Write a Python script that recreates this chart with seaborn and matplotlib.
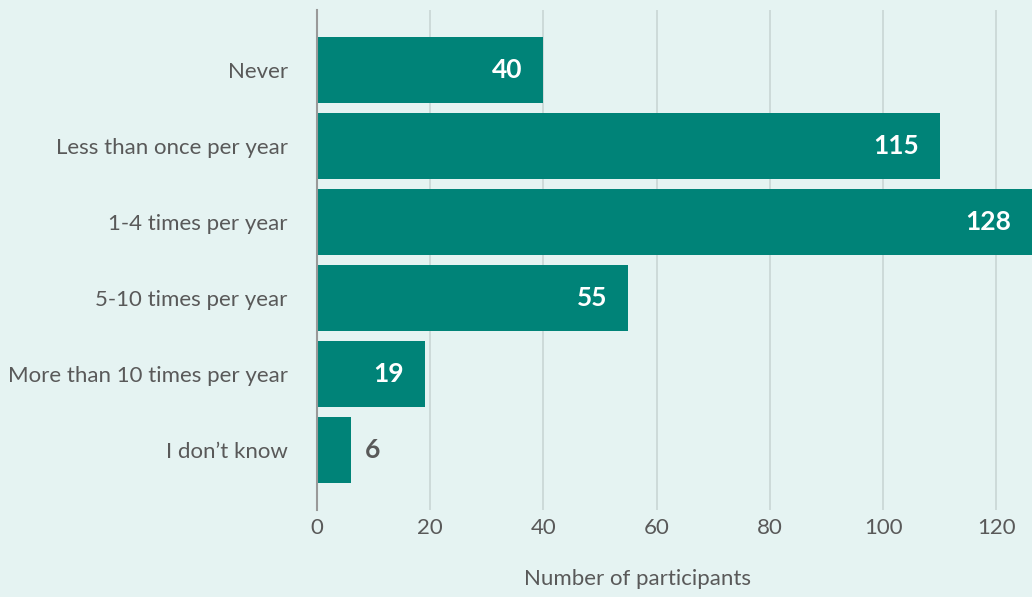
import matplotlib
matplotlib.use("Agg")
import matplotlib.pyplot as plt
import seaborn as sns
import pandas as pd

categories = ["Never", "Less than once per year", "1-4 times per year",
              "5-10 times per year", "More than 10 times per year", "I don\u2019t know"]
bar_lengths = [40, 110, 128, 55, 19, 6]
value_labels = ["40", "115", "128", "55", "19", "6"]
xticks = [0, 20, 40, 60, 80, 100, 120]

BG = "#e5f3f2"
BAR = "#008378"
TXT = "#595959"

sns.set_theme(style="white")
plt.rcParams["font.family"] = ["Lato", "DejaVu Sans"]

df = pd.DataFrame({"category": categories, "count": bar_lengths})

fig = plt.figure(figsize=(10.32, 5.97), dpi=100, facecolor=BG)
ax = fig.add_axes([317/1032, 1-510/597, 1-317/1032, 500/597])
ax.set_facecolor(BG)

sns.barplot(data=df, x="count", y="category", orient="h", color=BAR,
            width=0.87, saturation=1, linewidth=0, ax=ax, zorder=3)

ax.set_xlim(0, 126.3)
ax.set_ylim(5.79, -0.79)
ax.set_xticks(xticks)
ax.xaxis.grid(True, color="#c9d5d5", linewidth=1.2, zorder=0)
ax.set_axisbelow(True)
for s in ["top", "right", "bottom"]:
    ax.spines[s].set_visible(False)
ax.spines["left"].set_color("#999999")
ax.spines["left"].set_linewidth(1.5)
ax.spines["left"].set_zorder(4)

ax.tick_params(axis="both", length=0, labelsize=16, colors=TXT)
ax.tick_params(axis="y", pad=21)
ax.tick_params(axis="x", pad=6)
ax.set_ylabel("")
ax.set_xlabel("Number of participants", fontsize=16, color=TXT)
ax.xaxis.label.set_va("center")
ax.xaxis.set_label_coords((638-317)/715, -(579-510)/500, transform=ax.transAxes)

for i, (v, lab) in enumerate(zip(bar_lengths, value_labels)):
    if v >= 15:
        ax.annotate(lab, xy=(min(v, 126.3), i), xytext=(-15, 0), textcoords="offset points",
                    ha="right", va="center", color="white", fontsize=19,
                    fontweight="bold", zorder=5)
    else:
        ax.annotate(lab, xy=(v, i), xytext=(10, 0), textcoords="offset points",
                    ha="left", va="center", color=TXT, fontsize=19,
                    fontweight="bold", zorder=5)

fig.savefig("out.png", dpi=100, facecolor=BG)
